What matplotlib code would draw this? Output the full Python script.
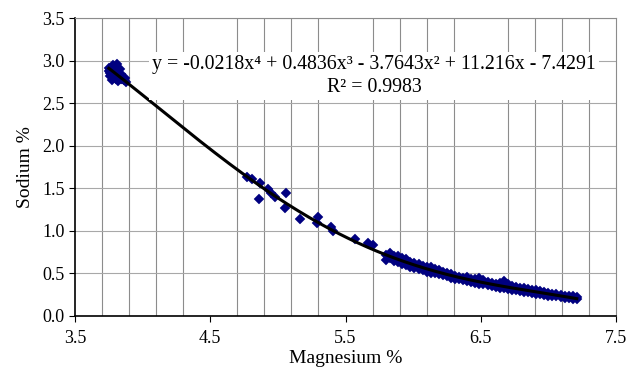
import numpy as np
import matplotlib
import matplotlib.pyplot as plt
from matplotlib.ticker import FormatStrFormatter

matplotlib.use("Agg")

# cluster of low-magnesium samples
mg_low = [3.75, 3.76, 3.77, 3.78, 3.79, 3.80, 3.81, 3.78, 3.77, 3.80, 3.82, 3.83,
          3.84, 3.85, 3.86, 3.88, 3.79, 3.82, 3.76, 3.81, 3.84, 3.80, 3.87, 3.75]
na_low = [2.88, 2.82, 2.92, 2.95, 2.90, 2.93, 2.87, 2.80, 2.77, 2.78, 2.82, 2.90,
          2.84, 2.79, 2.77, 2.75, 2.85, 2.76, 2.86, 2.96, 2.78, 2.83, 2.80, 2.91]

# sparse samples in the middle range
mg_mid = [4.77, 4.81, 4.87, 4.86, 4.93, 4.95, 4.98, 5.06, 5.05, 5.16, 5.30, 5.29,
          5.39, 5.41, 5.57, 5.67, 5.70]
na_mid = [1.63, 1.61, 1.56, 1.37, 1.49, 1.44, 1.40, 1.44, 1.27, 1.14, 1.16, 1.09,
          1.05, 1.00, 0.90, 0.86, 0.83]

# dense band of high-magnesium samples (upper and lower edge)
mg_band = [5.80, 5.83, 5.86, 5.89, 5.92, 5.95, 5.98, 6.01, 6.04, 6.07, 6.10, 6.13,
           6.16, 6.19, 6.22, 6.25, 6.28, 6.31, 6.34, 6.37, 6.40, 6.43, 6.46, 6.49,
           6.52, 6.55, 6.58, 6.61, 6.64, 6.67, 6.70, 6.73, 6.76, 6.79, 6.82, 6.85,
           6.88, 6.91, 6.94, 6.97, 7.00, 7.03, 7.06, 7.09, 7.12, 7.15, 7.18, 7.21]
na_band_hi = [0.72, 0.74, 0.71, 0.70, 0.68, 0.67, 0.64, 0.62, 0.61, 0.59, 0.58, 0.57,
              0.55, 0.54, 0.52, 0.50, 0.49, 0.47, 0.46, 0.45, 0.46, 0.44, 0.43, 0.45,
              0.42, 0.40, 0.39, 0.38, 0.39, 0.41, 0.37, 0.35, 0.34, 0.33, 0.33, 0.32,
              0.31, 0.30, 0.29, 0.28, 0.27, 0.26, 0.26, 0.25, 0.24, 0.23, 0.23, 0.22]
na_band_lo = [0.66, 0.68, 0.65, 0.63, 0.61, 0.60, 0.57, 0.56, 0.55, 0.54, 0.52, 0.51,
              0.50, 0.49, 0.48, 0.47, 0.45, 0.44, 0.43, 0.42, 0.41, 0.40, 0.39, 0.38,
              0.37, 0.36, 0.35, 0.34, 0.33, 0.33, 0.32, 0.31, 0.30, 0.29, 0.28, 0.28,
              0.27, 0.26, 0.26, 0.25, 0.24, 0.24, 0.23, 0.22, 0.21, 0.21, 0.20, 0.20]

x_ticks = [3.5, 4.5, 5.5, 6.5, 7.5]
x_grid = [3.7, 3.9, 4.1, 4.3, 4.5, 4.7, 4.9, 5.1, 5.3, 5.5, 5.7, 5.9,
          6.1, 6.3, 6.5, 6.7, 6.9, 7.1, 7.3]
y_ticks = [0.0, 0.5, 1.0, 1.5, 2.0, 2.5, 3.0, 3.5]

equation = "y = -0.0218x\u2074 + 0.4836x\u00b3 - 3.7643x\u00b2 + 11.216x - 7.4291\nR\u00b2 = 0.9983"

mg = np.array(mg_low + mg_mid + mg_band + mg_band)
na = np.array(na_low + na_mid + na_band_hi + na_band_lo)

plt.rcParams["font.family"] = ["Liberation Serif", "DejaVu Serif"]

fig = plt.figure(figsize=(6.39, 3.70), dpi=100)
ax = fig.add_axes([0.1174, 0.146, 0.8466, 0.805])

ax.set_xlim(3.5, 7.5)
ax.set_ylim(0, 3.5)
ax.set_xticks(x_ticks)
ax.set_xticks(x_grid, minor=True)
ax.set_yticks(y_ticks)
ax.xaxis.set_major_formatter(FormatStrFormatter("%.1f"))
ax.yaxis.set_major_formatter(FormatStrFormatter("%.1f"))
ax.tick_params(axis="x", which="minor", length=0)
ax.tick_params(axis="both", which="major", direction="out", length=4, width=0.8,
               labelsize=13, colors="black")
ax.tick_params(axis="x", which="major", pad=6)

ax.grid(True, axis="x", which="minor", color="#8c8c8c", linewidth=0.8)
ax.grid(True, axis="y", which="major", color="#a8a8a8", linewidth=0.8)
ax.set_axisbelow(True)

for side in ("top", "right"):
    ax.spines[side].set_color("#8c8c8c")
for side in ("left", "bottom"):
    ax.spines[side].set_color("black")
    ax.spines[side].set_linewidth(1.2)

ax.plot(mg, na, linestyle="none", marker="D", markersize=4.6,
        color="#000080", markeredgewidth=0.3, zorder=3)

coef = np.polyfit(mg, na, 4)
xs = np.linspace(mg.min(), mg.max(), 300)
ax.plot(xs, np.polyval(coef, xs), color="black", linewidth=2.2, zorder=4)

ax.text(5.71, 2.82, equation, ha="center", va="center", multialignment="center",
        fontsize=14.3, linespacing=1.3, zorder=5,
        bbox=dict(facecolor="white", edgecolor="none", pad=2))

ax.set_xlabel("Magnesium %", fontsize=14, labelpad=2)
ax.set_ylabel("Sodium %", fontsize=14, labelpad=6)

fig.savefig("out.png", dpi=100)
